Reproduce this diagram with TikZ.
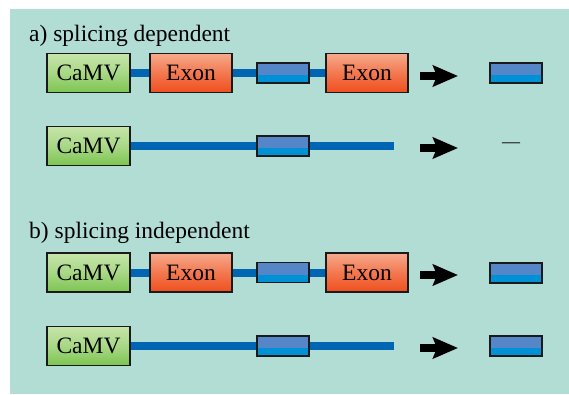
\documentclass[tikz,border=0pt]{standalone}
\usepackage{fontspec}
\setmainfont{Liberation Serif}
\usetikzlibrary{arrows.meta}
\definecolor{bgteal}{HTML}{B1DDD4}
\definecolor{dnablue}{HTML}{0066B3}
\definecolor{greentop}{HTML}{C6E5AA}
\definecolor{greenbot}{HTML}{7CC450}
\definecolor{exontop}{HTML}{F6AA8C}
\definecolor{exonbot}{HTML}{F04F1E}
\definecolor{boxtop}{HTML}{5587C8}
\definecolor{boxbot}{HTML}{0090D6}
\definecolor{edge}{HTML}{1A1A1A}
\tikzset{
  camvbox/.style={draw=edge, line width=1.1pt, minimum width=83pt, minimum height=39pt,
    inner sep=0pt, top color=greentop, bottom color=greenbot, middle color=greentop!60!greenbot,
    font=\fontsize{23.5}{23.5}\selectfont},
  exonbox/.style={draw=edge, line width=1.1pt, minimum width=82pt, minimum height=39pt,
    inner sep=0pt, top color=exontop, bottom color=exonbot, middle color=exontop!45!exonbot,
    font=\fontsize{23.5}{23.5}\selectfont},
  bluebox/.style={draw=edge, line width=1.1pt, minimum width=52pt, minimum height=20pt,
    inner sep=0pt, path picture={
      \fill[boxbot] (path picture bounding box.north west) rectangle (path picture bounding box.south east);
      \fill[boxtop] (path picture bounding box.north west) rectangle ([yshift=-2pt]path picture bounding box.east);
    }},
  dna/.style={draw=dnablue, line width=8pt},
  bigarrow/.style={line width=8pt, -{Stealth[length=25pt,width=21pt,inset=4pt]}, black},
  heading/.style={anchor=base west, inner sep=0pt, font=\fontsize{23.5}{23.5}\selectfont},
}
\begin{document}
\begin{tikzpicture}[x=1pt,y=-1pt]
\useasboundingbox (0,0) rectangle (569,395);
\fill[white] (0,0) rectangle (569,395);
\fill[bgteal] (10,9) rectangle (569,394);

% ---- a) splicing dependent
\node[heading] (ha) at (29,42) {a) splicing dependent};

% row 1
\node[camvbox] (c1) at (88.5,73) {CaMV};
\node[exonbox] (e1a) at (191,73) {Exon};
\node[bluebox] (b1) at (283,73) {};
\node[exonbox] (e1b) at (367,73) {Exon};
\coordinate (a1s) at (420,76);
\coordinate (a1e) at (458,76);
\node[bluebox] (r1) at (516,73) {};
\draw[dna] (c1.east) -- (e1a.west);
\draw[dna] (e1a.east) -- (b1.west);
\draw[dna] (b1.east) -- (e1b.west);
\draw[bigarrow] (a1s) -- (a1e);

% row 2
\node[camvbox] (c2) at (88.5,146) {CaMV};
\node[bluebox] (b2) at (283,146) {};
\coordinate (end2) at (394,146);
\coordinate (a2s) at (420,148);
\coordinate (a2e) at (458,148);
\node[inner sep=0pt, font=\fontsize{18}{18}\selectfont] (r2) at (511,145) {—};
\draw[dna] (c2.east) -- (b2.west);
\draw[dna] (b2.east) -- (end2);
\draw[bigarrow] (a2s) -- (a2e);

% ---- b) splicing independent
\node[heading] (hb) at (29,238) {b) splicing independent};

% row 3
\node[camvbox] (c3) at (88.5,272.5) {CaMV};
\node[exonbox] (e3a) at (191,272.5) {Exon};
\node[bluebox] (b3) at (283,272.5) {};
\node[exonbox] (e3b) at (367,272.5) {Exon};
\coordinate (a3s) at (420,275);
\coordinate (a3e) at (458,275);
\node[bluebox] (r3) at (516,273) {};
\draw[dna] (c3.east) -- (e3a.west);
\draw[dna] (e3a.east) -- (b3.west);
\draw[dna] (b3.east) -- (e3b.west);
\draw[bigarrow] (a3s) -- (a3e);

% row 4
\node[camvbox] (c4) at (88.5,346) {CaMV};
\node[bluebox] (b4) at (283,346) {};
\coordinate (end4) at (394,346);
\coordinate (a4s) at (420,348);
\coordinate (a4e) at (458,348);
\node[bluebox] (r4) at (516,346) {};
\draw[dna] (c4.east) -- (b4.west);
\draw[dna] (b4.east) -- (end4);
\draw[bigarrow] (a4s) -- (a4e);
\end{tikzpicture}
\end{document}
